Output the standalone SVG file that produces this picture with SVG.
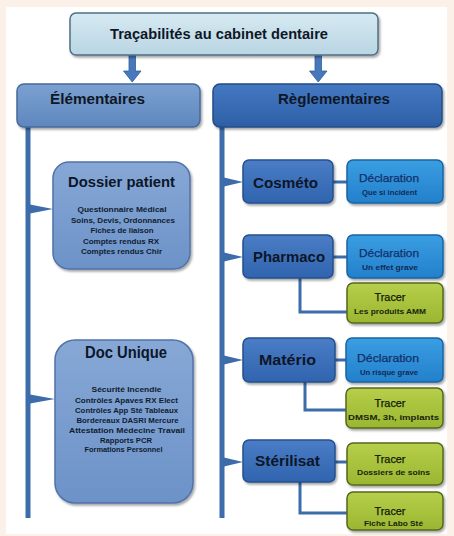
<svg xmlns="http://www.w3.org/2000/svg" width="454" height="536" viewBox="0 0 454 536">
<defs>
<linearGradient id="gTitle" x1="0" y1="0" x2="0" y2="1"><stop offset="0" stop-color="#d6eaf2"/><stop offset="1" stop-color="#b9d5e3"/></linearGradient>
<linearGradient id="gElem" x1="0" y1="0" x2="0" y2="1"><stop offset="0" stop-color="#7ba1d2"/><stop offset="1" stop-color="#5f87bd"/></linearGradient>
<linearGradient id="gRegl" x1="0" y1="0" x2="0" y2="1"><stop offset="0" stop-color="#4479c2"/><stop offset="1" stop-color="#2d5fa6"/></linearGradient>
<linearGradient id="gDoc" x1="0" y1="0" x2="0" y2="1"><stop offset="0" stop-color="#87a8d6"/><stop offset="1" stop-color="#6c92c8"/></linearGradient>
<linearGradient id="gCat" x1="0" y1="0" x2="0" y2="1"><stop offset="0" stop-color="#4a7dc6"/><stop offset="1" stop-color="#3064ae"/></linearGradient>
<linearGradient id="gDecl" x1="0" y1="0" x2="0" y2="1"><stop offset="0" stop-color="#3a9ee2"/><stop offset="1" stop-color="#2380cc"/></linearGradient>
<linearGradient id="gTrac" x1="0" y1="0" x2="0" y2="1"><stop offset="0" stop-color="#b7cf4a"/><stop offset="1" stop-color="#9ab631"/></linearGradient>
<filter id="sh" x="-10%" y="-10%" width="130%" height="140%"><feDropShadow dx="1.5" dy="2" stdDeviation="1.3" flood-color="#000" flood-opacity="0.35"/></filter>
</defs>
<style>
text{font-family:"Liberation Sans",Arial,sans-serif;text-anchor:middle;font-weight:bold}
.title{fill:url(#gTitle);stroke:#4f6f88;stroke-width:1.5}
.elem{fill:url(#gElem);stroke:#46699b;stroke-width:1.5}
.regl{fill:url(#gRegl);stroke:#234c86;stroke-width:1.5}
.doc{fill:url(#gDoc);stroke:#4f73a8;stroke-width:1.5}
.cat{fill:url(#gCat);stroke:#24508e;stroke-width:1.5}
.decl{fill:url(#gDecl);stroke:#1b64a3;stroke-width:1.5}
.trac{fill:url(#gTrac);stroke:#55681c;stroke-width:1.5}
.bx{filter:url(#sh)}
.t1{font-size:14px;fill:#0e1726}
.tn{font-size:14px;fill:#0c1628}
.ts{font-size:8px;fill:#101c30}
.td{font-size:10.5px;font-weight:normal;fill:#12306a;stroke:#12306a;stroke-width:0.25}
.tds{font-size:7.5px;fill:#102a55}
.tt{font-size:11.5px;font-weight:normal;fill:#10180a;stroke:#10180a;stroke-width:0.25}
.tts{font-size:7.5px;fill:#1a240c}
.ln{fill:none;stroke:#3d6cab;stroke-width:3}
.bar{fill:#3d6cab}
.arw{fill:#4678bb;stroke:#335f9c;stroke-width:0.8}
</style>
<rect x="0" y="0" width="454" height="536" fill="#fcf1e8"/>
<rect x="6" y="7" width="441" height="527" fill="#ffffff"/>

<g id="connectors">
<path class="arw" d="M129,55 H135.5 V71 H141 L132.25,82 L123.5,71 H129 Z"/>
<path class="arw" d="M315,55 H321.5 V71 H327 L318.25,82 L309.5,71 H315 Z"/>
<rect class="bar" x="25.5" y="126" width="5" height="392"/>
<rect class="bar" x="219.5" y="126" width="5" height="392"/>
<polygon class="bar" points="30,204.5 53,209 30,213.5"/>
<polygon class="bar" points="30,394.5 55,399 30,403.5"/>
<polygon class="bar" points="224,177.5 243,182 224,186.5"/>
<polygon class="bar" points="224,252.5 243,257 224,261.5"/>
<polygon class="bar" points="224,355.5 243,360 224,364.5"/>
<polygon class="bar" points="224,457.5 243,462 224,466.5"/>
<path class="ln" d="M333,182 H347"/>
<path class="ln" d="M333,257 H347"/>
<path class="ln" d="M335,360 H346"/>
<path class="ln" d="M335,462 H347"/>
<path class="ln" d="M300,278 V312 H347"/>
<path class="ln" d="M305,382 V410 H346"/>
<path class="ln" d="M300,482 V513 H347"/>
</g>

<g id="n-title"><rect class="title bx" x="70" y="13" width="308" height="42" rx="6"/><text class="t1" x="219" y="39" textLength="218" lengthAdjust="spacingAndGlyphs">Traçabilités au cabinet dentaire</text></g>
<g id="n-elementaires"><rect class="elem bx" x="17" y="84" width="183" height="43" rx="7"/><text class="t1" x="97.5" y="104" textLength="95" lengthAdjust="spacingAndGlyphs">Élémentaires</text></g>
<g id="n-reglementaires"><rect class="regl bx" x="213" y="84" width="229" height="43" rx="7"/><text class="t1" x="334" y="104" textLength="112" lengthAdjust="spacingAndGlyphs">Règlementaires</text></g>

<g id="n-dossier"><rect class="doc bx" x="53" y="162" width="137" height="107" rx="16"/>
<text class="tn" x="121.5" y="187" style="font-size:15px" textLength="107" lengthAdjust="spacingAndGlyphs">Dossier patient</text>
<text class="ts" x="122" y="212" textLength="89" lengthAdjust="spacingAndGlyphs">Questionnaire Médical</text>
<text class="ts" x="123" y="222.5" textLength="104" lengthAdjust="spacingAndGlyphs">Soins, Devis, Ordonnances</text>
<text class="ts" x="122" y="233" textLength="63" lengthAdjust="spacingAndGlyphs">Fiches de liaison</text>
<text class="ts" x="121" y="243.5" textLength="76" lengthAdjust="spacingAndGlyphs">Comptes rendus RX</text>
<text class="ts" x="121.5" y="254" textLength="81" lengthAdjust="spacingAndGlyphs">Comptes rendus Chir</text>
</g>

<g id="n-docunique"><rect class="doc bx" x="55" y="340" width="138" height="163" rx="20"/>
<text class="tn" x="126" y="358" style="font-size:16px" textLength="82" lengthAdjust="spacingAndGlyphs">Doc Unique</text>
<text class="ts" x="126.5" y="391.5" textLength="70" lengthAdjust="spacingAndGlyphs">Sécurité Incendie</text>
<text class="ts" x="126.5" y="402.5" textLength="103" lengthAdjust="spacingAndGlyphs">Contrôles Apaves RX Elect</text>
<text class="ts" x="126.5" y="412.5" textLength="103" lengthAdjust="spacingAndGlyphs">Contrôles App Sté Tableaux</text>
<text class="ts" x="127.5" y="422.5" textLength="102" lengthAdjust="spacingAndGlyphs">Bordereaux DASRI Mercure</text>
<text class="ts" x="127" y="432.5" textLength="116" lengthAdjust="spacingAndGlyphs">Attestation Médecine Travail</text>
<text class="ts" x="126" y="442.5" textLength="52" lengthAdjust="spacingAndGlyphs">Rapports PCR</text>
<text class="ts" x="123.5" y="452" textLength="78" lengthAdjust="spacingAndGlyphs">Formations Personnel</text>
</g>

<g id="n-cosmeto"><rect class="cat bx" x="243" y="160" width="90" height="43" rx="6"/><text class="tn" x="285.5" y="187.5" textLength="65" lengthAdjust="spacingAndGlyphs">Cosméto</text></g>
<g id="n-pharmaco"><rect class="cat bx" x="243" y="235" width="90" height="43" rx="6"/><text class="tn" x="289" y="262" textLength="72" lengthAdjust="spacingAndGlyphs">Pharmaco</text></g>
<g id="n-materio"><rect class="cat bx" x="243" y="338" width="92" height="44" rx="6"/><text class="tn" x="287.5" y="364.5" textLength="57" lengthAdjust="spacingAndGlyphs">Matério</text></g>
<g id="n-sterilisat"><rect class="cat bx" x="243" y="440" width="92" height="42" rx="6"/><text class="tn" x="287.5" y="465.5" textLength="65" lengthAdjust="spacingAndGlyphs">Stérilisat</text></g>

<g id="n-decl-cosmeto"><rect class="decl bx" x="347" y="160" width="96" height="43" rx="6"/>
<text class="td" x="389" y="182" textLength="60" lengthAdjust="spacingAndGlyphs">Déclaration</text>
<text class="tds" x="389.5" y="194.5" textLength="55" lengthAdjust="spacingAndGlyphs">Que si incident</text></g>
<g id="n-decl-pharmaco"><rect class="decl bx" x="347" y="235" width="96" height="43" rx="6"/>
<text class="td" x="389" y="257" textLength="60" lengthAdjust="spacingAndGlyphs">Déclaration</text>
<text class="tds" x="390" y="269.5" textLength="56" lengthAdjust="spacingAndGlyphs">Un effet grave</text></g>
<g id="n-tracer-amm"><rect class="trac bx" x="347" y="283" width="96" height="40" rx="6"/>
<text class="tt" x="390" y="301" textLength="31" lengthAdjust="spacingAndGlyphs">Tracer</text>
<text class="tts" x="390" y="313.5" textLength="72" lengthAdjust="spacingAndGlyphs">Les produits AMM</text></g>
<g id="n-decl-materio"><rect class="decl bx" x="346" y="338" width="97" height="44" rx="6"/>
<text class="td" x="388" y="361.5" textLength="62" lengthAdjust="spacingAndGlyphs">Déclaration</text>
<text class="tds" x="389" y="374.5" textLength="58" lengthAdjust="spacingAndGlyphs">Un risque grave</text></g>
<g id="n-tracer-dmsm"><rect class="trac bx" x="346" y="388" width="97" height="40" rx="6"/>
<text class="tt" x="390" y="407" textLength="31" lengthAdjust="spacingAndGlyphs">Tracer</text>
<text class="tts" x="393.5" y="419.5" textLength="91" lengthAdjust="spacingAndGlyphs">DMSM, 3h, implants</text></g>
<g id="n-tracer-dossiers"><rect class="trac bx" x="347" y="443" width="96" height="42" rx="6"/>
<text class="tt" x="390" y="462.5" textLength="31" lengthAdjust="spacingAndGlyphs">Tracer</text>
<text class="tts" x="393.5" y="474.5" textLength="73" lengthAdjust="spacingAndGlyphs">Dossiers de soins</text></g>
<g id="n-tracer-fiche"><rect class="trac bx" x="347" y="492" width="96" height="38" rx="6"/>
<text class="tt" x="390" y="514.5" textLength="31" lengthAdjust="spacingAndGlyphs">Tracer</text>
<text class="tts" x="393.5" y="526" textLength="59" lengthAdjust="spacingAndGlyphs">Fiche Labo Sté</text></g>
</svg>
